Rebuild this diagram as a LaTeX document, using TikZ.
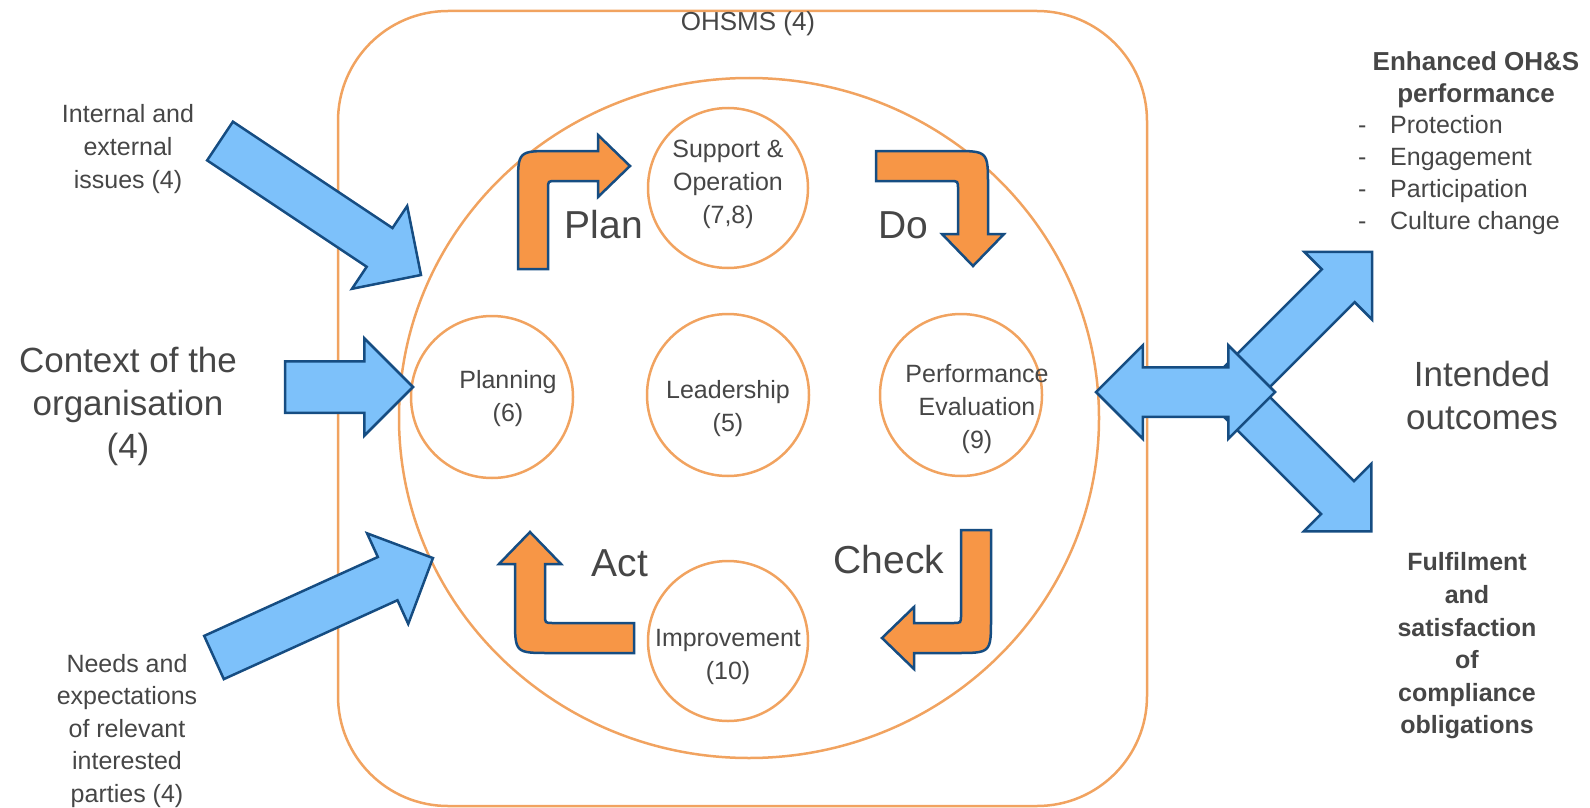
\documentclass[tikz,border=0pt]{standalone}
\usepackage{fontspec}
\setmainfont{Liberation Sans}
\usetikzlibrary{shapes.arrows}
\definecolor{ringorange}{RGB}{241,163,96}
\definecolor{turnorange}{RGB}{247,150,70}
\definecolor{flowblue}{RGB}{125,193,250}
\definecolor{edgeblue}{RGB}{22,77,130}
\definecolor{txtgray}{RGB}{70,70,70}

\begin{document}
\begin{tikzpicture}[x=1pt, y=-1pt,
    ring/.style = {draw=ringorange, line width=2.5pt, circle, minimum size=#1, inner sep=0pt},
    txt/.style = {text=txtgray, align=center, inner sep=0pt, font=\fontsize{25}{33}\selectfont},
    big/.style = {text=txtgray, align=center, inner sep=0pt, font=\fontsize{39}{44}\selectfont},
    turn/.style = {draw=edgeblue, fill=turnorange, line width=2.5pt, line join=miter},
    flow/.style = {single arrow, draw=edgeblue, fill=flowblue, line width=2.5pt, inner sep=0pt, outer sep=0pt, text depth=0pt}]
    \useasboundingbox (0,0) rectangle (1590,808);
    % Frame
    \draw[draw=ringorange, line width=2.5pt, rounded corners=110pt] (338,11) rectangle (1147,806);
    \node[txt, font=\fontsize{26}{30}\selectfont] (ohsms) at (748,24) {OHSMS (4)};
    \draw[draw=ringorange, line width=2.5pt] (749,418) ellipse [x radius=350, y radius=340];
    % Circles
    \node[ring=160] (supp) at (728,188) {};
    \node[ring=162] (plng) at (492,397) {};
    \node[ring=162] (lead) at (728,395) {};
    \node[ring=162] (perf) at (961,395) {};
    \node[ring=160] (impr) at (728,641) {};
    \node[txt] (supp-t) at (728,184) {Support \&\\Operation\\(7,8)};
    \node[txt] (plng-t) at (508,399) {Planning\\(6)};
    \node[txt] (lead-t) at (728,409) {Leadership\\(5)};
    \node[txt] (perf-t) at (977,409) {Performance\\Evaluation\\(9)};
    \node[txt] (impr-t) at (728,657) {Improvement\\(10)};
    % Cycle
    \draw[turn] (518,269) -- (518,186) .. controls (518,151) .. (553,151) -- (598,151) -- (598,135)
        -- (630,166) -- (598,197) -- (598,181) -- (556,181) .. controls (548,181) .. (548,189) -- (548,269) -- cycle;
    \draw[turn] (876,151) -- (953,151) .. controls (988,151) .. (988,186) -- (988,234) -- (1004,234)
        -- (973,266) -- (942,234) -- (958,234) -- (958,189) .. controls (958,181) .. (950,181) -- (876,181) -- cycle;
    \draw[turn] (530,532) -- (561,564) -- (545,564) -- (545,615) .. controls (545,623) .. (553,623) -- (634,623)
        -- (634,653) -- (550,653) .. controls (515,653) .. (515,618) -- (515,564) -- (499,564) -- cycle;
    \draw[turn] (961,530) -- (991,530) -- (991,618) .. controls (991,653) .. (956,653) -- (914,653) -- (914,669)
        -- (882,638) -- (914,607) -- (914,623) -- (953,623) .. controls (961,623) .. (961,615) -- cycle;
    \node[big] (plan) at (604,225) {Plan};
    \node[big] (do) at (903,225) {Do};
    \node[big] (act) at (620,563) {Act};
    \node[big] (check) at (889,560) {Check};
    % Inputs
    \node[txt] (iss-t) at (128,149) {Internal and\\external\\issues (4)};
    \node[txt, font=\fontsize{35}{43}\selectfont] (ctx-t) at (128,406) {Context of the\\organisation\\(4)};
    \node[txt, font=\fontsize{25}{32.5}\selectfont] (need-t) at (127,731) {Needs and\\expectations\\of relevant\\interested\\parties (4)};
    \node[flow, anchor=tail, rotate=-33.69, minimum height=241.6, text height=44, single arrow head extend=26.5] (iss) at (220,141) {};
    \node[flow, anchor=tail, minimum height=128, text height=49, single arrow head extend=23] (ctx) at (285,387) {};
    \node[flow, anchor=tail, rotate=24.43, minimum height=240.5, text height=45, single arrow head extend=26] (need) at (214,657.5) {};
    % Outcomes
    \node[flow, anchor=tail, rotate=45, minimum height=198, text height=44, single arrow head extend=24.5] (up) at (1232,392) {};
    \node[flow, anchor=tail, rotate=-45, minimum height=197, text height=44, single arrow head extend=24.5] (down) at (1232,392) {};
    \node[double arrow, draw=edgeblue, fill=flowblue, line width=2.5pt, inner sep=0pt, text depth=0pt,
        minimum height=179, text height=47, double arrow head extend=22] (both) at (1185.5,392) {};
    \node[txt, font=\bfseries\fontsize{26}{32}\selectfont] (ohs-t) at (1476,80) {Enhanced OH\&S\\performance};
    \node[txt, align=left, anchor=north west, font=\fontsize{25}{32}\selectfont] (list) at (1358,115)
        {\makebox[32pt][l]{-}Protection\\\makebox[32pt][l]{-}Engagement\\\makebox[32pt][l]{-}Participation\\\makebox[32pt][l]{-}Culture change};
    \node[txt, font=\fontsize{35}{43}\selectfont] (out-t) at (1482,395) {Intended\\outcomes};
    \node[txt, font=\bfseries\fontsize{25}{32.6}\selectfont] (ful-t) at (1467,646) {Fulfilment\\and\\satisfaction\\of\\compliance\\obligations};
\end{tikzpicture}
\end{document}
